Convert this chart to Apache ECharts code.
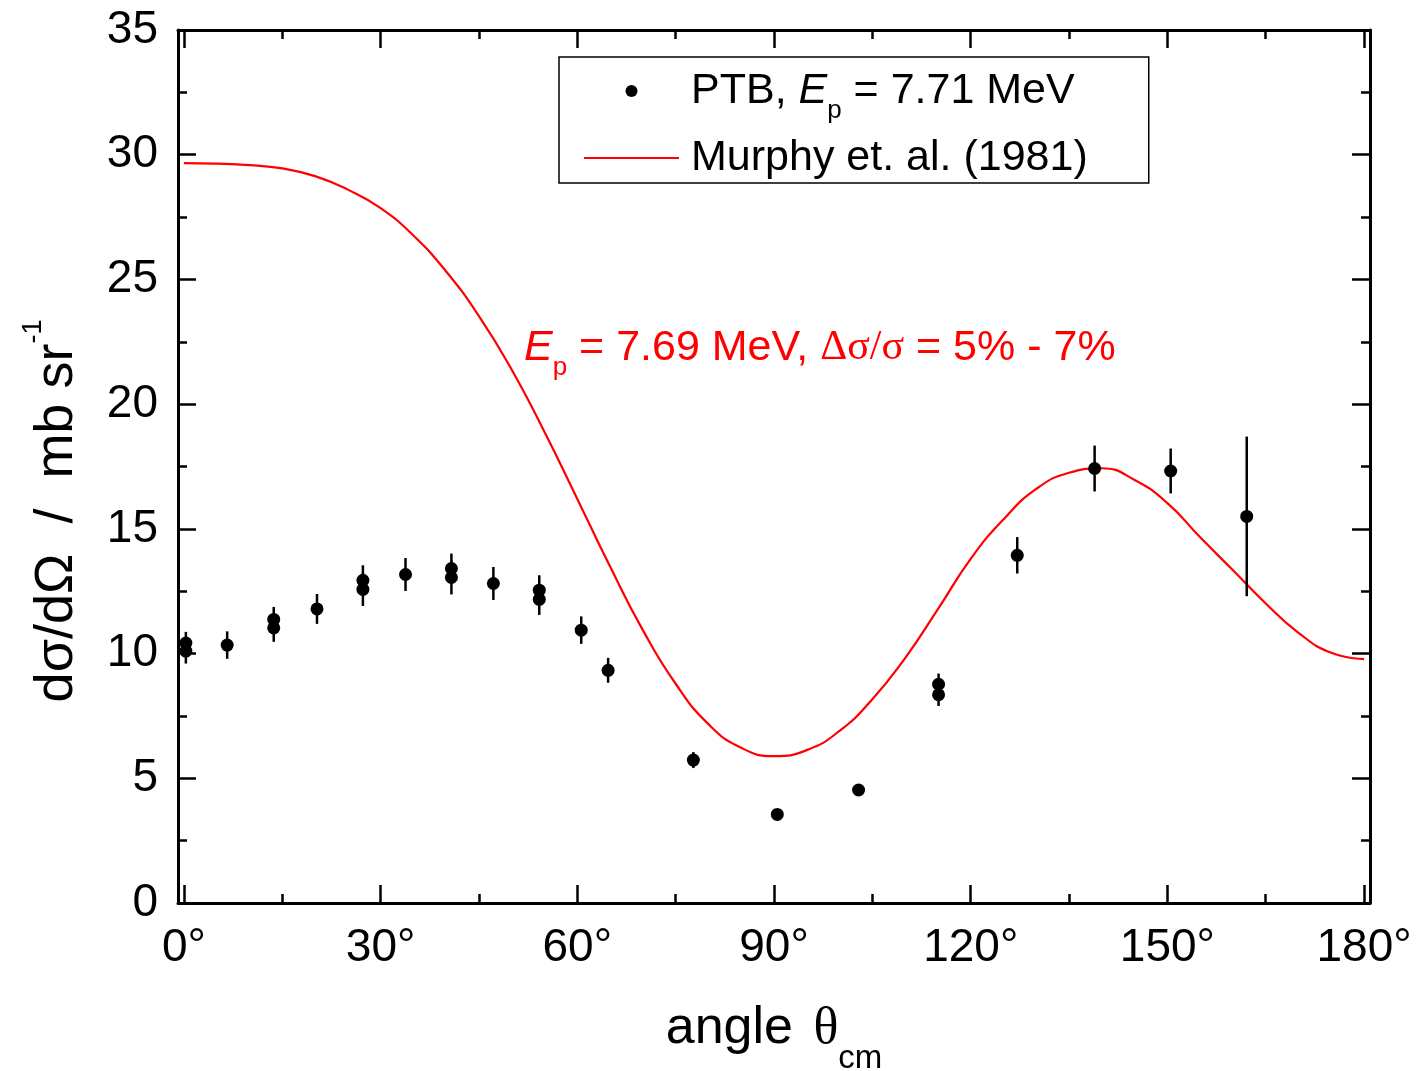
<!DOCTYPE html>
<html><head><meta charset="utf-8">
<script src="https://cdn.jsdelivr.net/npm/echarts@6/dist/echarts.min.js"></script>
<style>html,body{margin:0;padding:0;background:#fff}#c{width:1416px;height:1071px}</style>
</head><body><div id="c"></div>
<script>
// PTB measured data (angle in degrees, dsigma/dOmega in mb/sr, error)
const ptbAngle = [0.3, 0.3, 6.6, 13.7, 13.7, 20.3, 27.3, 27.3, 33.8, 40.8, 40.8, 47.2, 54.2, 54.2, 60.6, 64.7, 77.7, 90.5, 102.9, 115.1, 115.1, 127.1, 138.9, 150.5, 162.1];
const ptbValue = [10.42, 10.10, 10.34, 11.37, 11.03, 11.79, 12.94, 12.57, 13.17, 13.41, 13.05, 12.81, 12.54, 12.17, 10.94, 9.33, 5.73, 3.55, 4.53, 8.77, 8.35, 13.94, 17.42, 17.32, 15.50];
const ptbError = [0.45, 0.50, 0.55, 0.50, 0.56, 0.60, 0.60, 0.66, 0.66, 0.60, 0.68, 0.66, 0.60, 0.62, 0.55, 0.50, 0.32, 0.10, 0.12, 0.43, 0.45, 0.73, 0.92, 0.90, 3.20];
// Murphy et al. (1981) curve, read every 5 degrees
const murphyAngle = [0, 5, 10, 15, 20, 25, 30, 35, 40, 45, 50, 55, 60, 65, 70, 75, 80, 85, 90, 95, 100, 105, 110, 115, 120, 125, 130, 135, 140, 145, 150, 155, 160, 165, 170, 175, 180];
const murphyValue = [29.66, 29.64, 29.58, 29.45, 29.14, 28.6, 27.86, 26.76, 25.32, 23.53, 21.38, 18.88, 16.2, 13.49, 10.94, 8.79, 7.17, 6.22, 5.89, 6.13, 6.9, 8.17, 9.82, 11.78, 13.8, 15.38, 16.6, 17.25, 17.43, 16.96, 16.03, 14.66, 13.34, 12.01, 10.83, 10.03, 9.78];
// tick labels
const xTickValues = [0, 30, 60, 90, 120, 150, 180];
const xTickLabels = ['0°', '30°', '60°', '90°', '120°', '150°', '180°'];

const FONT = '"Liberation Sans", Arial, sans-serif';
const SERIF = '"Liberation Serif", "DejaVu Serif", serif';

const ptbPoints = ptbAngle.map((a, i) => [a, ptbValue[i]]);
const ptbBars = ptbAngle.map((a, i) => [a, ptbValue[i] - ptbError[i], ptbValue[i] + ptbError[i]]);
const murphyPoints = murphyAngle.map((a, i) => [a, murphyValue[i]]);

const XMIN = -0.9, XMAX = 180.9;
const tickLine = { color: '#000', width: 2.5 };

function xMajor(position, withLabels) {
  return {
    type: 'value', position: position, min: XMIN, max: XMAX,
    minInterval: 30, maxInterval: 30, splitNumber: 6,
    axisLine: { show: true, onZero: false, lineStyle: { color: '#000', width: 3 } },
    axisTick: { show: true, inside: true, length: 18, lineStyle: tickLine },
    axisLabel: withLabels ? {
      show: true, fontSize: 46, fontFamily: FONT, color: '#000', margin: 22,
      showMinLabel: true, showMaxLabel: true,
      formatter: v => { const k = xTickValues.indexOf(Math.round(v * 1000) / 1000); return k >= 0 ? xTickLabels[k] : ''; }
    } : { show: false },
    splitLine: { show: false }
  };
}
function xMinor(position) {
  return {
    type: 'value', position: position, min: XMIN, max: XMAX,
    minInterval: 15, maxInterval: 15, splitNumber: 12,
    axisLine: { show: false, onZero: false },
    axisTick: { show: true, inside: true, length: 9, lineStyle: tickLine },
    axisLabel: { show: false },
    splitLine: { show: false }
  };
}
function yAx(position, withLabels) {
  return {
    type: 'value', position: position, min: 0, max: 35, interval: 5,
    axisLine: { show: true, onZero: false, lineStyle: { color: '#000', width: 3 } },
    axisTick: { show: true, inside: true, length: 18, lineStyle: tickLine },
    minorTick: { show: true, splitNumber: 2, length: 9, lineStyle: tickLine },
    axisLabel: withLabels ? { show: true, fontSize: 46, fontFamily: FONT, color: '#000', margin: 20 } : { show: false },
    splitLine: { show: false }
  };
}

const xMain = xMajor('bottom', true);
xMain.name = 'angle {th|θ}{sub|cm}';
xMain.nameLocation = 'middle';
xMain.nameGap = 96;
xMain.nameTextStyle = {
  fontSize: 52, fontFamily: FONT, color: '#000', lineHeight: 60,
  rich: {
    th: { fontSize: 52, fontFamily: SERIF, color: '#000', lineHeight: 60, padding: [0, 0, 0, 6] },
    sub: { fontSize: 33, fontFamily: FONT, color: '#000', verticalAlign: 'top', padding: [43, 0, 0, 0], lineHeight: 60 }
  }
};

const chart = echarts.init(document.getElementById('c'), null, { renderer: 'canvas' });
chart.setOption({
  animation: false,
  backgroundColor: '#fff',
  grid: { left: 178, top: 30, width: 1192, height: 873, containLabel: false, outerBoundsMode: 'none' },
  xAxis: [xMain, xMajor('top', false), xMinor('bottom'), xMinor('top')],
  yAxis: [yAx('left', true), yAx('right', false)],
  legend: {
    data: ['PTB', { name: 'Murphy', itemStyle: { color: 'rgba(0,0,0,0)', opacity: 0 } }],
    orient: 'vertical', left: 559, top: 57,
    itemWidth: 95, itemHeight: 12, itemGap: 9,
    padding: [9, 61, 0, 24],
    borderColor: '#000', borderWidth: 1.5,
    selectedMode: false,
    formatter: n => n === 'PTB' ? 'PTB, {E|E}{p|p} = 7.71 MeV' : 'Murphy et. al. (1981)',
    textStyle: {
      fontSize: 43, fontFamily: FONT, color: '#000', lineHeight: 50, padding: [0, 0, 0, 7],
      rich: {
        E: { fontStyle: 'italic', fontSize: 43, fontFamily: FONT, color: '#000', lineHeight: 50 },
        p: { fontSize: 26, fontFamily: FONT, color: '#000', verticalAlign: 'top', padding: [32, 0, 0, 0], lineHeight: 50 }
      }
    }
  },
  graphic: [
    {
      type: 'text', x: 524, y: 348, z: 100,
      style: {
        text: '{E|E}{p|p}{m| = 7.69 MeV, }{g|Δσ/σ}{m| = 5% - 7%}',
        align: 'left', verticalAlign: 'middle',
        fontSize: 43, fontFamily: FONT, fill: '#ff0000', lineHeight: 50,
        rich: {
          E: { fontStyle: 'italic', fontSize: 43, fontFamily: FONT, fill: '#ff0000', lineHeight: 50 },
          p: { fontSize: 26, fontFamily: FONT, fill: '#ff0000', verticalAlign: 'top', padding: [32, 0, 0, 0], lineHeight: 50 },
          m: { fontSize: 43, fontFamily: FONT, fill: '#ff0000', lineHeight: 50 },
          g: { fontSize: 42, fontFamily: SERIF, fill: '#ff0000', lineHeight: 50 }
        }
      }
    },
    {
      type: 'text', x: 50, y: 511, rotation: Math.PI / 2, z: 100,
      style: {
        text: '{t|dσ/dΩ  /  mb sr}{s|-1}',
        align: 'center', verticalAlign: 'middle',
        fontSize: 54, fontFamily: FONT, fill: '#000',
        rich: {
          t: { fontSize: 54, fontFamily: FONT, fill: '#000', verticalAlign: 'bottom' },
          s: { fontSize: 27, fontFamily: FONT, fill: '#000', verticalAlign: 'top', padding: [4, 0, 0, 0], lineHeight: 68 }
        }
      }
    }
  ],
  series: [
    {
      name: 'Murphy', type: 'line', xAxisIndex: 0, yAxisIndex: 0,
      data: murphyPoints, smooth: true, symbol: 'none',
      lineStyle: { color: '#ff0000', width: 2.2 }, itemStyle: { color: '#ff0000' }, z: 2
    },
    {
      name: 'PTB errors', type: 'custom', xAxisIndex: 0, yAxisIndex: 0,
      data: ptbBars, encode: { x: 0, y: [1, 2] }, z: 3,
      renderItem: (params, api) => {
        const a = api.coord([api.value(0), api.value(1)]);
        const b = api.coord([api.value(0), api.value(2)]);
        return { type: 'line', shape: { x1: a[0], y1: a[1], x2: b[0], y2: b[1] }, style: { stroke: '#000', lineWidth: 2.5 } };
      }
    },
    {
      name: 'PTB', type: 'scatter', xAxisIndex: 0, yAxisIndex: 0,
      data: ptbPoints, symbol: 'circle', symbolSize: 13,
      itemStyle: { color: '#000', opacity: 1 }, z: 4
    }
  ]
});
</script></body></html>
